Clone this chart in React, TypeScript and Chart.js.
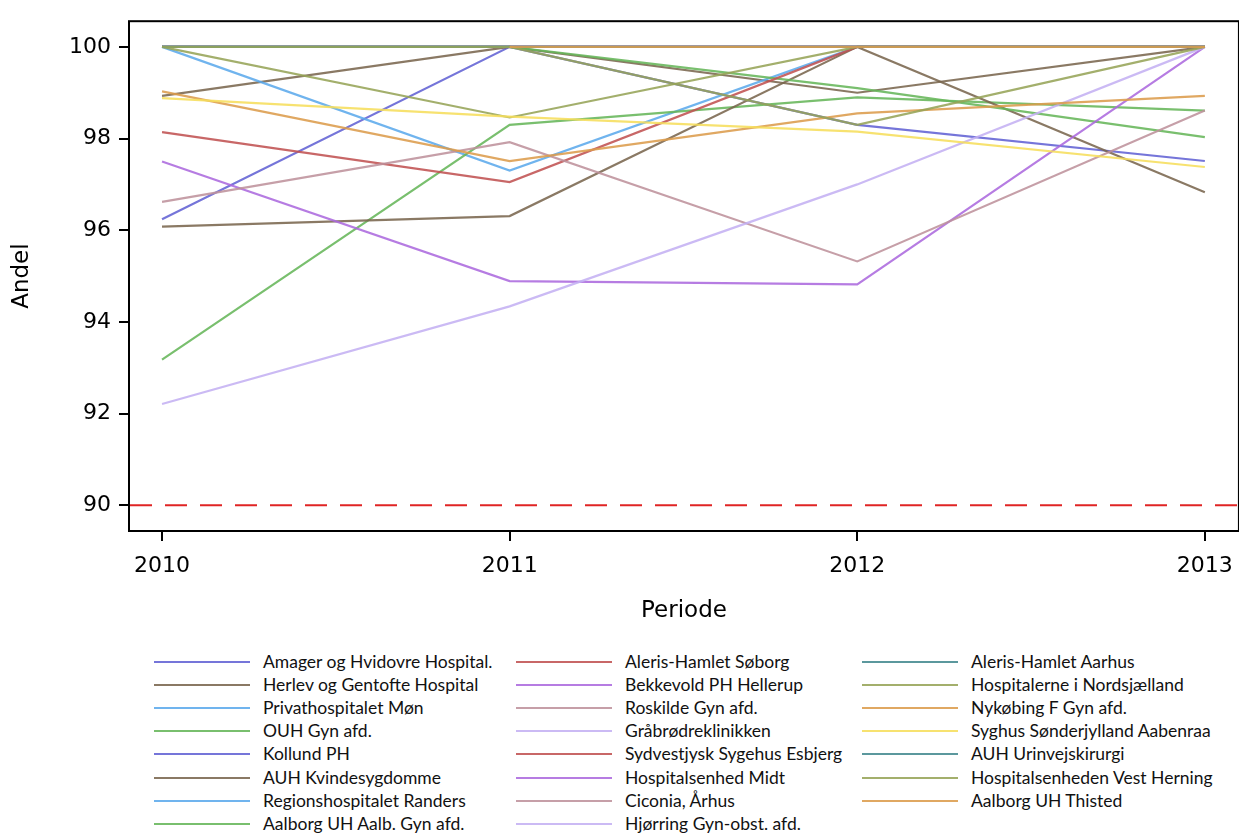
import React, { useEffect, useRef } from "react";
import { Chart, registerables } from "chart.js";

Chart.register(...registerables);

// ---------- data ----------
const years = [2010, 2011, 2012, 2013];
const yTicks = [90, 92, 94, 96, 98, 100];
const targetLevel = 90;

const seriesNames = [
  "Amager og Hvidovre Hospital.",
  "Herlev og Gentofte Hospital",
  "Privathospitalet Møn",
  "OUH Gyn afd.",
  "Kollund PH",
  "AUH Kvindesygdomme",
  "Regionshospitalet Randers",
  "Aalborg UH Aalb. Gyn afd.",
  "Aleris-Hamlet Søborg",
  "Bekkevold PH Hellerup",
  "Roskilde Gyn afd.",
  "Gråbrødreklinikken",
  "Sydvestjysk Sygehus Esbjerg",
  "Hospitalsenhed Midt",
  "Ciconia, Århus",
  "Hjørring Gyn-obst. afd.",
  "Aleris-Hamlet Aarhus",
  "Hospitalerne i Nordsjælland",
  "Nykøbing F Gyn afd.",
  "Syghus Sønderjylland Aabenraa",
  "AUH Urinvejskirurgi",
  "Hospitalsenheden Vest Herning",
  "Aalborg UH Thisted",
];

const amager = [96.24, 100, 98.3, 97.51];
const herlev = [98.93, 100, 99.0, 100];
const privatMon = [100, 97.3, 100, 100];
const ouh = [93.18, 98.3, 98.9, 98.61];
const kollund = [100, 100, 100, 100];
const auhKvinde = [96.08, 96.31, 100, 96.83];
const randers = [100, 100, 100, 100];
const aalborgGyn = [100, 100, 99.1, 98.03];
const soborg = [98.14, 97.05, 100, 100];
const bekkevold = [97.5, 94.89, 94.82, 100];
const roskilde = [96.62, 97.92, 95.32, 98.61];
const graabrodre = [92.21, 94.34, 97.0, 100];
const esbjerg = [100, 100, 100, 100];
const midt = [100, 100, 100, 100];
const ciconia = [100, 100, 100, 100];
const hjorring = [100, 100, 100, 100];
const alerisAarhus = [100, 100, 100, 100];
const nordsjaelland = [100, 98.46, 100, 100];
const nykobing = [99.03, 97.51, 98.55, 98.93];
const aabenraa = [98.88, 98.48, 98.15, 97.38];
const urinvej = [100, 100, 100, 100];
const vestHerning = [100, 100, 98.3, 100];
const thisted = [null, 100, 100, 100];

const seriesValues: (number | null)[][] = [
  amager, herlev, privatMon, ouh, kollund, auhKvinde, randers, aalborgGyn,
  soborg, bekkevold, roskilde, graabrodre, esbjerg, midt, ciconia, hjorring,
  alerisAarhus, nordsjaelland, nykobing, aabenraa, urinvej, vestHerning, thisted,
];

const cBlue = "rgba(98,98,212,0.88)";
const cBrown = "rgba(122,102,78,0.88)";
const cLightBlue = "rgba(92,170,236,0.88)";
const cGreen = "rgba(102,182,90,0.88)";
const cRed = "rgba(192,82,82,0.88)";
const cPurple = "rgba(172,106,222,0.88)";
const cPink = "rgba(190,146,156,0.88)";
const cLavender = "rgba(196,176,242,0.88)";
const cTeal = "rgba(68,138,144,0.88)";
const cOlive = "rgba(150,164,88,0.88)";
const cOrange = "rgba(220,156,76,0.88)";
const cYellow = "rgba(246,222,92,0.88)";

const seriesColors = [
  cBlue, cBrown, cLightBlue, cGreen, cBlue, cBrown, cLightBlue, cGreen,
  cRed, cPurple, cPink, cLavender, cRed, cPurple, cPink, cLavender,
  cTeal, cOlive, cOrange, cYellow, cTeal, cOlive, cOrange,
];

const tickFont = "DejaVu Sans";
const legendFont = "Lato";

const legendCols = [
  { lineX: 154, textX: 263 },
  { lineX: 516, textX: 625 },
  { lineX: 862, textX: 971 },
];

export default function App() {
  const canvasRef = useRef<HTMLCanvasElement>(null);

  useEffect(() => {
    const canvas = canvasRef.current;
    if (!canvas) return;

    const framePlugin = {
      id: "framePlugin",
      beforeDatasetsDraw(chart: any) {
        const { ctx, chartArea } = chart;
        const y = chart.scales.y.getPixelForValue(targetLevel);
        ctx.save();
        ctx.strokeStyle = "#e02424";
        ctx.lineWidth = 2;
        ctx.setLineDash([22, 13]);
        ctx.beginPath();
        ctx.moveTo(chartArea.left + 1, y);
        ctx.lineTo(chartArea.right, y);
        ctx.stroke();
        ctx.restore();
      },
      afterDraw(chart: any) {
        const { ctx, chartArea } = chart;
        ctx.save();
        ctx.strokeStyle = "#000";
        ctx.lineWidth = 2;
        ctx.strokeRect(
          chartArea.left,
          chartArea.top,
          chartArea.right - chartArea.left,
          chartArea.bottom - chartArea.top
        );
        ctx.restore();
      },
    };

    const chart = new Chart(canvas, {
      type: "line",
      data: {
        datasets: seriesNames.map((name, i) => ({
          label: name,
          data: years.map((x, j) => ({ x, y: seriesValues[i][j] })),
          borderColor: seriesColors[i],
          backgroundColor: seriesColors[i],
          borderWidth: 2.2,
          pointRadius: 0,
          fill: false,
          tension: 0,
          order: -i,
        })),
      },
      options: {
        animation: false,
        responsive: false,
        maintainAspectRatio: false,
        layout: { padding: { top: 13, right: 5, left: 0, bottom: 0 } },
        plugins: {
          legend: { display: false },
          tooltip: { enabled: false },
        },
        scales: {
          x: {
            type: "linear",
            min: 2009.905,
            max: 2013.098,
            afterBuildTicks: (s: any) => {
              s.ticks = years.map((v) => ({ value: v }));
            },
            afterFit: (s: any) => {
              s.height = 109;
            },
            ticks: {
              callback: (v: any) => String(v),
              font: { family: tickFont, size: 22 },
              color: "#000",
              padding: 12,
              maxRotation: 0,
              autoSkip: false,
            },
            grid: {
              display: true,
              drawOnChartArea: false,
              drawTicks: true,
              tickLength: 10,
              color: "#000",
              lineWidth: 2,
            },
            border: { display: false },
            title: {
              display: true,
              text: "Periode",
              font: { family: tickFont, size: 23 },
              color: "#000",
              padding: { top: 0, bottom: 15 },
            },
          },
          y: {
            type: "linear",
            min: 89.44,
            max: 100.56,
            afterBuildTicks: (s: any) => {
              s.ticks = yTicks.map((v) => ({ value: v }));
            },
            afterFit: (s: any) => {
              s.width = 129;
            },
            ticks: {
              callback: (v: any) => String(v),
              font: { family: tickFont, size: 22 },
              color: "#000",
              padding: 8,
            },
            grid: {
              display: true,
              drawOnChartArea: false,
              drawTicks: true,
              tickLength: 10,
              color: "#000",
              lineWidth: 2,
            },
            border: { display: false },
            title: {
              display: true,
              text: "Andel",
              font: { family: tickFont, size: 23 },
              color: "#000",
              padding: { top: 8, bottom: 0 },
            },
          },
        },
      },
      plugins: [framePlugin],
    });

    return () => chart.destroy();
  }, []);

  const perCol = Math.ceil(seriesNames.length / 3);

  return (
    <div
      style={{
        position: "absolute",
        left: 0,
        top: 0,
        width: 1239,
        height: 835,
        overflow: "hidden",
        background: "#fff",
      }}
    >
      <canvas
        ref={canvasRef}
        width={1245}
        height={640}
        style={{ display: "block", width: 1245, height: 640 }}
      />
      {seriesNames.map((name, i) => {
        const col = Math.floor(i / perCol);
        const row = i % perCol;
        const cy = 661.5 + row * 23.2;
        const c = legendCols[col];
        return (
          <React.Fragment key={name}>
            <div
              style={{
                position: "absolute",
                left: c.lineX,
                top: cy - 1,
                width: 96,
                height: 2,
                background: seriesColors[i],
              }}
            />
            <div
              style={{
                position: "absolute",
                left: c.textX,
                top: cy - 12,
                height: 24,
                lineHeight: "24px",
                fontFamily: legendFont,
                fontSize: 17.5,
                color: "#111",
                whiteSpace: "nowrap",
              }}
            >
              {name}
            </div>
          </React.Fragment>
        );
      })}
    </div>
  );
}
